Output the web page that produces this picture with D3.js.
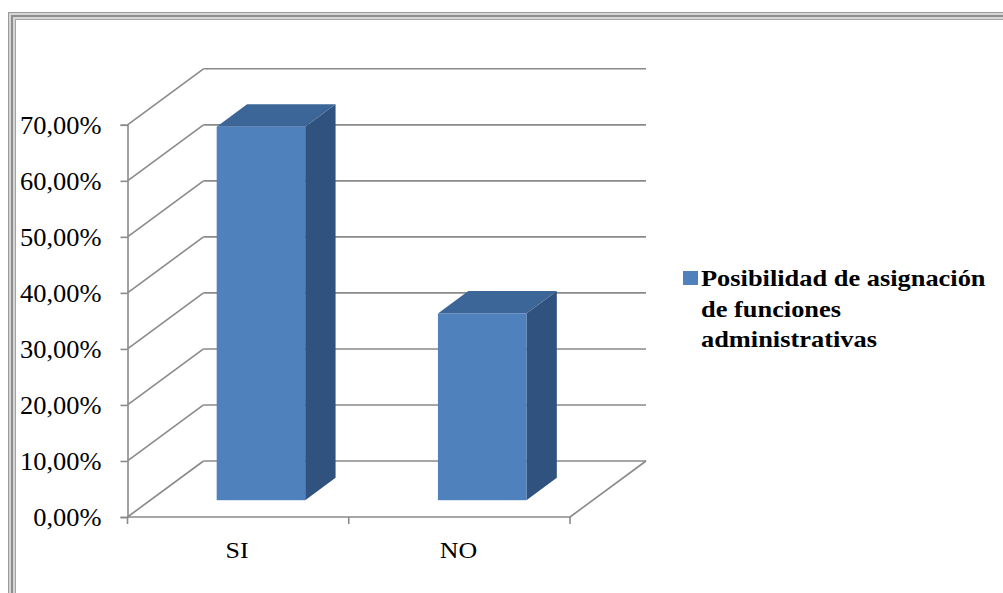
<!DOCTYPE html>
<html>
<head>
<meta charset="utf-8">
<script src="https://cdn.jsdelivr.net/npm/d3@7"></script>
<style>
  html, body { margin: 0; padding: 0; background: #fff; }
  svg { display: block; }
  svg text { font-family: "Liberation Serif", "Times New Roman", serif; }
</style>
</head>
<body>
<svg id="chart" width="1003" height="593"></svg>
<script>
// Chart data
const categories = ["SI", "NO"];
const values = [0.6667, 0.3333];
const tickValues = [0, 0.1, 0.2, 0.3, 0.4, 0.5, 0.6, 0.7];
const seriesName = ["Posibilidad de asignación", "de funciones", "administrativas"];

// Colours
const frontColor = "#4f81bd";
const topColor = "#3c6698";
const sideColor = "#30527e";
const gridColor = "#8a8a8a";
const serif = '"Liberation Serif", "Times New Roman", serif';
const stretch = 1.08; // slightly widened lettering

const svg = d3.select("#chart");

// Frame around the chart area
const frame = svg.append("g");
frame.append("rect").attr("x", 12).attr("y", 16).attr("width", 1020).attr("height", 620)
  .attr("fill", "none").attr("stroke", "#d6d6d6").attr("stroke-width", 8);
frame.append("rect").attr("x", 8.5).attr("y", 12.5).attr("width", 1020).attr("height", 620)
  .attr("fill", "none").attr("stroke", "#9a9a9a").attr("stroke-width", 1);
frame.append("rect").attr("x", 12).attr("y", 16).attr("width", 1020).attr("height", 620)
  .attr("fill", "none").attr("stroke", "#8e8e8e").attr("stroke-width", 2);
frame.append("rect").attr("x", 15.5).attr("y", 19.5).attr("width", 1020).attr("height", 620)
  .attr("fill", "none").attr("stroke", "#a4a4a4").attr("stroke-width", 1);

// Plot geometry: front plane plus oblique depth offset
const x0 = 127.5, x1 = 570;
const depthX = 76, depthY = -56;
const barDepth0 = 0.3, barDepth1 = 0.7;

const y = d3.scaleLinear().domain([0, 0.7]).range([517, 124.8]);
const x = d3.scaleBand().domain(categories).range([x0, x1])
  .paddingInner(0.6).paddingOuter(0.3);

const pct = d3.formatLocale({ decimal: ",", thousands: ".", grouping: [3], currency: ["", "€"] }).format(".2%");

// Walls and floor grid
const grid = svg.append("g").attr("fill", "none").attr("stroke", gridColor).attr("stroke-width", 1.6);
tickValues.forEach(v => {
  const yf = y(v);
  // side wall diagonal
  grid.append("line").attr("x1", x0).attr("y1", yf).attr("x2", x0 + depthX).attr("y2", yf + depthY);
  // back wall line
  grid.append("line").attr("x1", x0 + depthX).attr("y1", yf + depthY).attr("x2", x1 + depthX).attr("y2", yf + depthY);
});
// floor right edge
grid.append("line").attr("x1", x1).attr("y1", y(0)).attr("x2", x1 + depthX).attr("y2", y(0) + depthY);

// Bars as oblique boxes
const bars = svg.append("g");
categories.forEach((c, i) => {
  const v = values[i];
  const ox = depthX * barDepth0, oy = depthY * barDepth0;
  const dx = depthX * (barDepth1 - barDepth0), dy = depthY * (barDepth1 - barDepth0);
  const left = x(c) + ox, right = x(c) + x.bandwidth() + ox;
  const top = y(v) + oy, bottom = y(0) + oy;
  // right side
  bars.append("polygon").attr("fill", sideColor)
    .attr("points", [[right, top], [right + dx, top + dy], [right + dx, bottom + dy], [right, bottom]].join(" "));
  // top
  bars.append("polygon").attr("fill", topColor)
    .attr("points", [[left, top], [left + dx, top + dy], [right + dx, top + dy], [right, top]].join(" "));
  // front
  bars.append("rect").attr("fill", frontColor)
    .attr("x", left).attr("y", top).attr("width", right - left).attr("height", bottom - top);
});

// Vertical axis
const yAxis = svg.append("g").attr("transform", `translate(${x0},0)`)
  .call(d3.axisLeft(y).tickValues(tickValues).tickFormat(pct).tickSize(7).tickPadding(19));
yAxis.attr("font-family", null).attr("font-size", null);
yAxis.select(".domain").attr("stroke", gridColor).attr("stroke-width", 1.6);
yAxis.selectAll(".tick line").attr("stroke", gridColor).attr("stroke-width", 1.6);
yAxis.selectAll(".tick text")
  .attr("x", -26 / stretch)
  .attr("transform", `scale(${stretch},1)`)
  .style("font-family", serif).style("font-size", "24.5px")
  .attr("fill", "#000").attr("dy", "0.36em");

// Horizontal axis
const xAxisG = svg.append("g").attr("transform", `translate(0,${y(0)})`);
xAxisG.append("line").attr("x1", x0).attr("x2", x1).attr("stroke", gridColor).attr("stroke-width", 1.6);
d3.range(categories.length + 1).forEach(k => {
  const tx = x0 + k * (x1 - x0) / categories.length;
  xAxisG.append("line").attr("x1", tx).attr("x2", tx).attr("y1", 0).attr("y2", 7)
    .attr("stroke", gridColor).attr("stroke-width", 1.6);
});
xAxisG.selectAll("text.cat").data(categories).join("text").attr("class", "cat")
  .attr("transform", d => `translate(${x(d) + x.bandwidth() / 2 - 1},41) scale(${stretch},1)`)
  .attr("text-anchor", "middle")
  .style("font-family", serif).style("font-size", "24px")
  .attr("fill", "#000").text(d => d);

// Legend
const legend = svg.append("g").attr("transform", "translate(683,271)");
legend.append("rect").attr("width", 15).attr("height", 14).attr("fill", frontColor);
legend.selectAll("text").data(seriesName).join("text")
  .attr("transform", (d, i) => `translate(18,${15 + i * 30.5}) scale(1.1,1)`)
  .style("font-family", serif).style("font-weight", "bold").style("font-size", "24px")
  .attr("fill", "#000")
  .text(d => d);
</script>
</body>
</html>
